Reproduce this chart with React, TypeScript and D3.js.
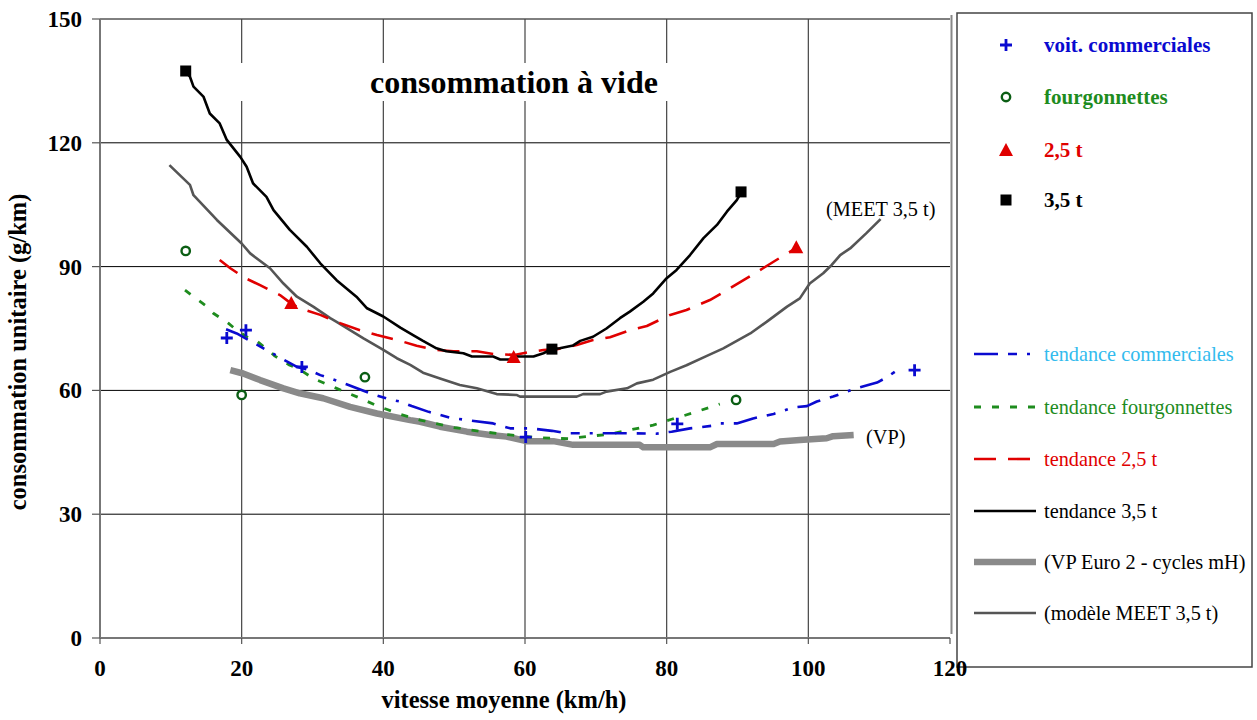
import React from "react";
import * as d3 from "d3";

// ---------- data ----------
const xTicks = [0, 20, 40, 60, 80, 100, 120];
const yTicks = [0, 30, 60, 90, 120, 150];

// measured points [speed km/h, consumption g/km]
const voitCommerciales: [number, number][] = [
  [17.9, 72.7], [20.6, 74.6], [28.5, 65.7], [60.1, 48.7], [81.5, 51.9], [115, 64.9],
];
const fourgonnettes: [number, number][] = [
  [12.1, 93.8], [20.0, 58.9], [37.4, 63.2], [89.8, 57.7],
];
const t25: [number, number][] = [
  [27.0, 81.2], [58.4, 68.1], [98.3, 94.7],
];
const t35: [number, number][] = [
  [12.1, 137.4], [63.8, 70.0], [90.5, 108.1],
];

// trend curves
const trend35: [number, number][] = [
  [12.1, 137.2], [12.7, 136.0], [13.2, 133.6], [14.6, 131.2], [15.5, 127.1], [16.9, 124.7], [17.9, 120.7],
  [19.8, 116.6], [20.7, 114.2], [21.6, 110.2], [23.5, 106.9], [24.5, 103.7], [26.8, 98.9], [29.2, 94.8],
  [31.1, 90.8], [33.4, 86.7], [36.2, 82.7], [37.7, 79.9], [40.0, 77.9], [42.4, 75.2], [44.2, 73.4],
  [45.6, 72.0], [47.5, 70.2], [48.9, 69.5], [51.3, 69.0], [52.5, 68.2], [55.5, 68.2], [56.5, 67.5],
  [58.3, 67.5], [58.8, 68.2], [61.2, 68.2], [62.6, 69.0], [63.8, 70.0], [64.9, 70.2], [66.8, 70.9],
  [67.8, 72.0], [69.6, 73.0], [71.5, 75.0], [73.4, 77.5], [74.8, 79.1], [76.7, 81.5], [78.1, 83.5],
  [80.0, 87.2], [81.4, 89.2], [83.3, 92.8], [85.2, 96.9], [87.1, 100.1], [88.5, 103.3], [89.9, 106.1],
  [90.5, 107.9],
];
const trend25: [number, number][] = [
  [16.9, 91.6], [18.4, 89.6], [20.5, 87.2], [22.6, 85.5], [25.4, 83.1], [27.1, 80.9], [28.2, 79.9],
  [31.1, 78.3], [33.9, 76.3], [36.7, 74.6], [39.1, 73.4], [42.4, 72.0], [44.7, 70.8], [47.5, 69.8],
  [49.9, 69.5], [53.2, 69.5], [55.5, 68.8], [58.5, 68.6], [60.7, 69.3], [62.6, 69.8], [64.5, 70.0],
  [67.3, 71.0], [69.6, 72.2], [72.0, 72.9], [74.8, 74.6], [77.2, 75.6], [80.5, 78.3], [82.8, 79.5],
  [86.1, 81.9], [88.5, 84.3], [91.5, 87.4], [93.6, 89.6], [97.0, 93.2], [98.2, 94.4],
];
const trendCommerciales: [number, number][] = [
  [17.8, 74.8], [19.3, 73.8], [21.2, 72.0], [23.5, 69.8], [26.3, 67.1], [27.8, 65.7], [29.6, 64.9],
  [31.1, 63.7], [32.5, 62.9], [34.8, 61.5], [38.1, 59.3], [40.9, 57.8], [42.4, 57.3], [44.0, 56.2],
  [46.4, 54.8], [49.4, 53.4], [52.2, 52.7], [55.5, 52.0], [57.9, 50.8], [60.7, 50.8], [63.8, 50.2],
  [65.9, 49.6], [69.2, 49.6], [75.3, 49.6], [78.5, 49.5], [80.7, 50.0], [83.3, 50.8], [86.3, 51.4],
  [87.5, 52.0], [89.9, 52.0], [92.2, 53.2], [95.1, 54.3], [97.9, 55.9], [99.8, 56.2], [101.2, 57.3],
  [103.5, 58.5], [106.4, 60.3], [109.7, 61.9], [111.1, 63.2], [112.2, 64.5],
];
const trendFourgonnettes: [number, number][] = [
  [12.0, 84.3], [12.9, 83.1], [15.1, 80.3], [16.0, 78.7], [18.1, 76.3], [19.3, 74.6], [21.2, 72.4],
  [22.1, 72.0], [24.0, 69.4], [24.7, 68.3], [26.8, 66.1], [27.8, 65.5], [30.1, 62.9], [33.4, 60.5],
  [36.2, 58.5], [39.5, 56.0], [42.4, 54.2], [45.2, 52.8], [50.0, 51.0], [54.0, 50.0], [57.9, 49.2],
  [62.0, 48.5], [66.1, 48.3], [69.2, 48.9], [72.0, 49.4], [74.8, 50.4], [78.1, 51.6], [80.7, 53.0],
  [81.7, 53.5], [83.8, 54.6], [86.6, 56.2], [87.5, 56.7],
];
const vpEuro2: [number, number][] = [
  [18.4, 64.9], [20.2, 64.1], [22.6, 62.5], [25.9, 60.5], [28.2, 59.3], [31.5, 58.1], [35.3, 56.0],
  [39.1, 54.4], [43.8, 52.8], [45.2, 52.4], [48.0, 51.2], [51.8, 50.0], [55.1, 49.2], [57.4, 48.8],
  [60.2, 47.7], [64.0, 47.7], [66.8, 46.8], [76.2, 46.8], [76.7, 46.2], [86.1, 46.2], [87.1, 47.0],
  [95.1, 47.0], [96.0, 47.6], [98.8, 48.0], [102.6, 48.4], [103.5, 48.9], [106.4, 49.2],
];
const meet35: [number, number][] = [
  [9.8, 114.6], [12.7, 109.8], [13.2, 107.3], [16.5, 101.3], [20.0, 95.6], [21.2, 93.2], [24.0, 89.6],
  [25.9, 85.9], [27.8, 82.7], [30.1, 80.3], [32.5, 77.5], [33.4, 76.6], [35.3, 74.6], [37.2, 72.6],
  [40.0, 69.8], [41.9, 67.8], [43.8, 66.2], [45.6, 64.3], [48.0, 62.9], [50.8, 61.3], [53.2, 60.5],
  [56.0, 59.1], [58.8, 58.9], [59.3, 58.5], [67.3, 58.5], [68.2, 59.1], [70.6, 59.1], [71.5, 59.7],
  [74.4, 60.5], [75.8, 61.7], [78.1, 62.6], [80.5, 64.5], [82.8, 66.1], [85.6, 68.3], [88.0, 70.2],
  [89.9, 72.0], [91.8, 73.8], [94.1, 76.6], [97.0, 80.3], [98.8, 82.3], [100.2, 85.9], [102.1, 88.4],
  [103.3, 90.4], [104.5, 92.8], [105.9, 94.4], [108.2, 98.1], [110.2, 101.5],
];

const markerLegend = ["voit. commerciales", "fourgonnettes", "2,5 t", "3,5 t"];
const lineLegend = [
  "tendance commerciales",
  "tendance fourgonnettes",
  "tendance 2,5 t",
  "tendance 3,5 t",
  "(VP Euro 2 - cycles mH)",
  "(modèle MEET 3,5 t)",
];

// ---------- styles ----------
const FONT = "'Liberation Serif', 'Times New Roman', serif";
const BLUE = "#0a0ad0";
const GREEN_M = "#0b5e14";
const GREEN = "#1e8c1e";
const RED = "#e00000";
const LIGHTBLUE = "#33bbee";

const lineStyles = [
  { color: BLUE, width: 2.6, dash: "24 10 9 10 3 10" },
  { color: GREEN, width: 2.8, dash: "7 11" },
  { color: RED, width: 2.6, dash: "22 12" },
  { color: "#000", width: 2.6, dash: "" },
  { color: "#8a8a8a", width: 6.5, dash: "" },
  { color: "#555", width: 2.6, dash: "" },
];
const lineLegendTextColors = [LIGHTBLUE, GREEN, RED, "#000", "#000", "#000"];
const markerLegendColors = [BLUE, GREEN, RED, "#000"];

const x = d3.scaleLinear().domain([0, 120]).range([100, 950]);
const y = d3.scaleLinear().domain([0, 150]).range([638, 19]);
const line = d3
  .line<[number, number]>()
  .x((d) => x(d[0]))
  .y((d) => y(d[1]))
  .curve(d3.curveLinear);

function Marker({ kind, cx, cy }: { kind: number; cx: number; cy: number }) {
  if (kind === 0)
    return (
      <path
        d={`M${cx - 6},${cy}H${cx + 6}M${cx},${cy - 6}V${cy + 6}`}
        stroke={BLUE}
        strokeWidth={2.8}
      />
    );
  if (kind === 1)
    return <circle cx={cx} cy={cy} r={4.2} fill="white" stroke={GREEN_M} strokeWidth={2.4} />;
  if (kind === 2)
    return <path d={`M${cx},${cy - 7}L${cx + 7},${cy + 6}L${cx - 7},${cy + 6}Z`} fill={RED} />;
  return <rect x={cx - 5.5} y={cy - 5.5} width={11} height={11} fill="#000" />;
}

export default function App() {
  const trends = [trendCommerciales, trendFourgonnettes, trend25, trend35, vpEuro2, meet35];
  const drawOrder = [4, 5, 1, 0, 2, 3];
  const pointSets = [voitCommerciales, fourgonnettes, t25, t35];
  const markerLegendY = [45, 97, 150, 200];
  const lineLegendY = [354, 407, 459, 511, 562, 613];

  return (
    <svg
      width={1257}
      height={720}
      style={{ position: "absolute", left: 0, top: 0, background: "white" }}
      fontFamily={FONT}
    >
      <rect x={0} y={0} width={1257} height={720} fill="white" />
      {/* grid */}
      {yTicks.filter((t) => t > 0).map((t) => (
        <line key={"gy" + t} x1={100} x2={950} y1={y(t)} y2={y(t)} stroke="#000" strokeWidth={1} />
      ))}
      {xTicks.filter((t) => t > 0 && t < 120).map((t) => (
        <line key={"gx" + t} x1={x(t)} x2={x(t)} y1={y(150)} y2={y(0)} stroke="#444" strokeWidth={1.2} />
      ))}
      <line x1={951.5} x2={951.5} y1={y(150) - 4} y2={y(0) - 4} stroke="#888" strokeWidth={2} />
      {/* axes */}
      <line x1={100} x2={100} y1={y(150)} y2={y(0)} stroke="#777" strokeWidth={2} />
      <line x1={100} x2={950} y1={y(0)} y2={y(0)} stroke="#777" strokeWidth={2} />
      {yTicks.map((t) => (
        <line key={"ty" + t} x1={92} x2={100} y1={y(t)} y2={y(t)} stroke="#555" strokeWidth={1.2} />
      ))}
      {xTicks.map((t) => (
        <line key={"tx" + t} x1={x(t)} x2={x(t)} y1={y(0)} y2={y(0) + 6} stroke="#555" strokeWidth={1.2} />
      ))}
      {yTicks.map((t) => (
        <text key={"ly" + t} x={82} y={y(t) + 8} textAnchor="end" fontSize={23} fontWeight="bold">
          {t}
        </text>
      ))}
      <text x={504} y={708} textAnchor="middle" fontSize={24.5} fontWeight="bold">
        vitesse moyenne (km/h)
      </text>
      <text
        transform="translate(26,352) rotate(-90)"
        textAnchor="middle"
        fontSize={24.5}
        fontWeight="bold"
      >
        consommation unitaire (g/km)
      </text>

      {/* title */}
      <rect x={241} y={63} width={431} height={38} fill="white" />
      <text x={514} y={93} textAnchor="middle" fontSize={32} fontWeight="bold">
        consommation à vide
      </text>

      {/* trend lines */}
      {drawOrder.map((i) => (
        <path
          key={"tr" + i}
          d={line(trends[i]) || ""}
          fill="none"
          stroke={lineStyles[i].color}
          strokeWidth={lineStyles[i].width}
          strokeDasharray={lineStyles[i].dash || undefined}
          strokeLinejoin="round"
        />
      ))}
      <text x={826} y={216} fontSize={20.3}>
        (MEET 3,5 t)
      </text>
      <text x={866} y={444} fontSize={20.3}>
        (VP)
      </text>

      {/* points */}
      {pointSets.map((set, k) =>
        set.map((d, j) => <Marker key={"m" + k + "-" + j} kind={k} cx={x(d[0])} cy={y(d[1])} />)
      )}

      {/* legend */}
      <rect x={957} y={13} width={295} height={654} fill="white" stroke="#444" strokeWidth={1.5} />
      {markerLegend.map((name, i) => (
        <g key={"lm" + i}>
          <Marker kind={i} cx={1006} cy={markerLegendY[i]} />
          <text
            x={1044}
            y={markerLegendY[i] + 7}
            fontSize={21}
            fontWeight="bold"
            fill={markerLegendColors[i]}
          >
            {name}
          </text>
        </g>
      ))}
      {lineLegend.map((name, i) => (
        <g key={"ll" + i}>
          <line
            x1={974}
            x2={1036}
            y1={lineLegendY[i]}
            y2={lineLegendY[i]}
            stroke={lineStyles[i].color}
            strokeWidth={lineStyles[i].width}
            strokeDasharray={lineStyles[i].dash || undefined}
          />
          <text x={1044} y={lineLegendY[i] + 7} fontSize={20.3} fill={lineLegendTextColors[i]}>
            {name}
          </text>
        </g>
      ))}

      {/* x tick labels on top */}
      {xTicks.map((t) => (
        <text key={"lx" + t} x={x(t)} y={676} textAnchor="middle" fontSize={23} fontWeight="bold">
          {t}
        </text>
      ))}
    </svg>
  );
}
